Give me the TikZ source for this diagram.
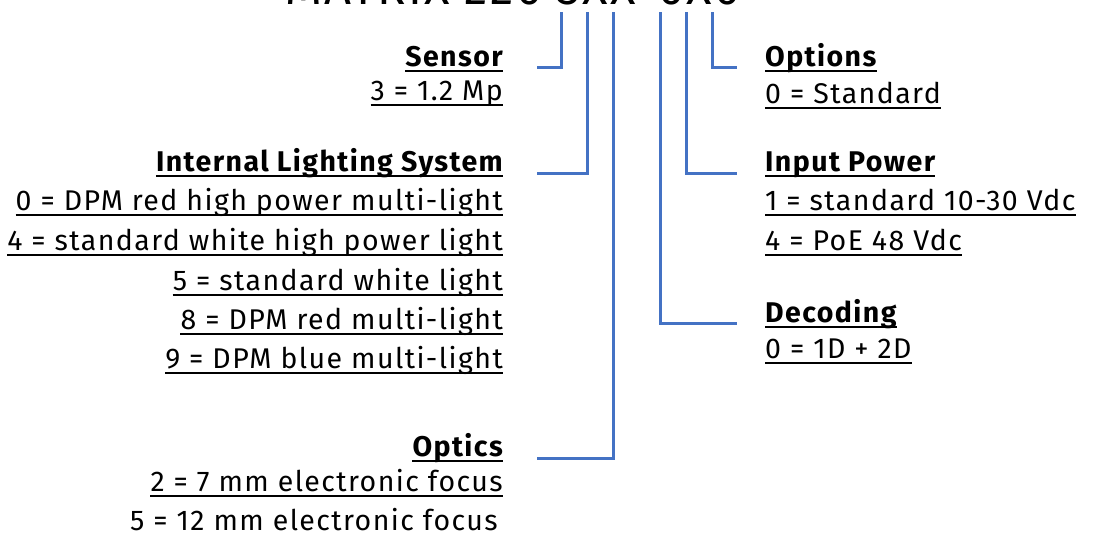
\documentclass[tikz,border=0pt]{standalone}
\usepackage{fontspec}
\setmainfont{Fira Sans}[LetterSpace=5]
\definecolor{lineblue}{HTML}{4472C4}
\begin{document}
\begin{tikzpicture}[x=1pt,y=-1pt,
  lbl/.style={inner sep=0pt, font=\fontsize{28.5}{32}\selectfont},
  hd/.style={inner sep=0pt, font=\fontsize{28.5}{32}\selectfont\bfseries},
  uline/.style={draw=black, line width=2pt},
  ul/.style={append after command={([yshift=-5pt]\tikzlastnode.base west) edge[uline] ([yshift=-5pt]\tikzlastnode.base east)}},
  conn/.style={draw=lineblue, line width=3pt}]
\useasboundingbox (0,0) rectangle (1093,539);
% title (cut off at the top edge)
\node[inner sep=0pt, anchor=base west, font=\fontsize{47}{50}\selectfont] (title) at (285,4) {MATRIX 220 3XX-0X0};
% left column
\node[hd,ul,anchor=base east] (sensor) at (503,66) {Sensor};
\node[lbl,ul,anchor=base east] (s1) at (503,100) {3 = 1.2 Mp};
\node[hd,ul,anchor=base east] (ils) at (503,171) {Internal Lighting System};
\node[lbl,ul,anchor=base east] (l0) at (503,210) {0 = DPM red high power multi-light};
\node[lbl,ul,anchor=base east] (l4) at (503,250) {4 = standard white high power light};
\node[lbl,ul,anchor=base east] (l5) at (503,290) {5 = standard white light};
\node[lbl,ul,anchor=base east] (l8) at (503,329) {8 = DPM red multi-light};
\node[lbl,ul,anchor=base east] (l9) at (503,368) {9 = DPM blue multi-light};
\node[hd,ul,anchor=base east] (optics) at (503,456) {Optics};
\node[lbl,ul,anchor=base east] (o2) at (503,491) {2 = 7 mm electronic focus};
\node[lbl,anchor=base east] (o5) at (498,530) {5 = 12 mm electronic focus};
% right column
\node[hd,ul,anchor=base west] (options) at (765,66) {Options};
\node[lbl,ul,anchor=base west] (op0) at (765,103) {0 = Standard};
\node[hd,ul,anchor=base west] (power) at (765,171) {Input Power};
\node[lbl,ul,anchor=base west] (p1) at (765,210) {1 = standard 10-30 Vdc};
\node[lbl,ul,anchor=base west] (p4) at (765,250) {4 = PoE 48 Vdc};
\node[hd,ul,anchor=base west] (decoding) at (765,322) {Decoding};
\node[lbl,ul,anchor=base west] (d0) at (765,358) {0 = 1D + 2D};
% connectors
\coordinate (t1) at (561,12); \coordinate (e1) at (537,67);
\coordinate (t2) at (587,12); \coordinate (e2) at (537,173);
\coordinate (t3) at (613,12); \coordinate (e3) at (537,458);
\coordinate (t4) at (660,12); \coordinate (e4) at (737,323);
\coordinate (t5) at (686,12); \coordinate (e5) at (737,173);
\coordinate (t6) at (712,12); \coordinate (e6) at (737,67);
\draw[conn] (t1) |- (e1);
\draw[conn] (t2) |- (e2);
\draw[conn] (t3) |- (e3);
\draw[conn] (t4) |- (e4);
\draw[conn] (t5) |- (e5);
\draw[conn] (t6) |- (e6);
\end{tikzpicture}
\end{document}
